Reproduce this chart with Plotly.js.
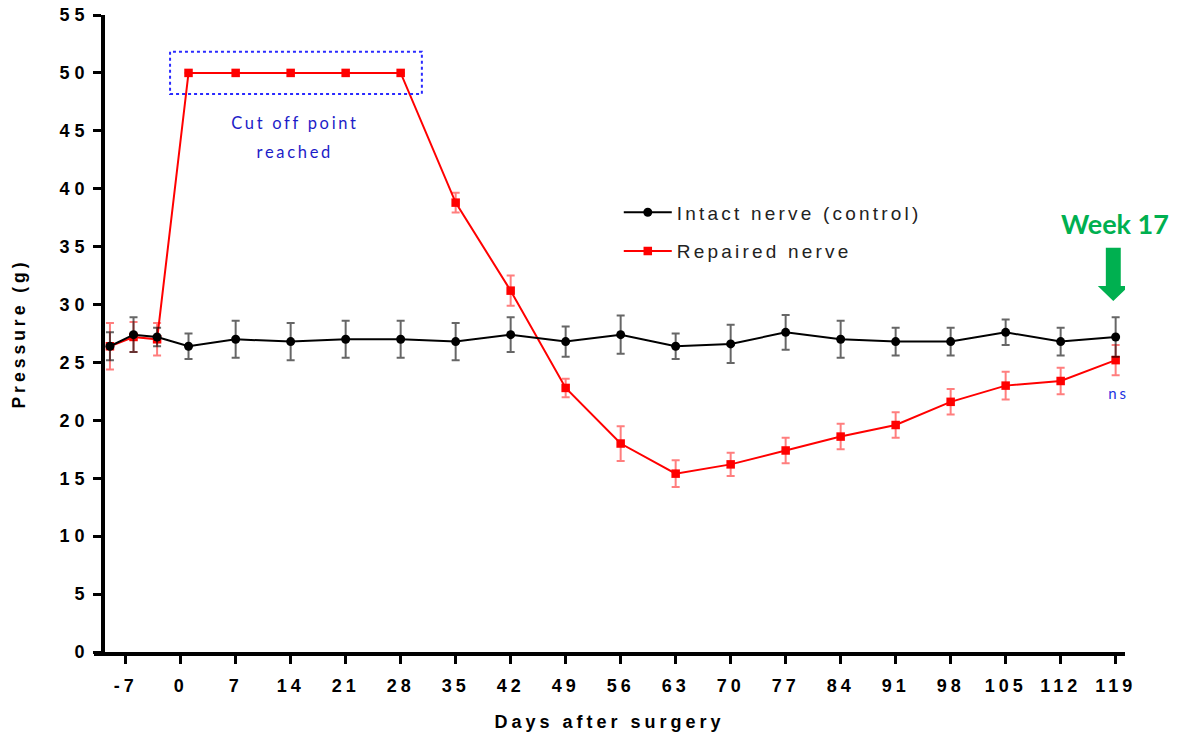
<!DOCTYPE html>
<html>
<head>
<meta charset="utf-8">
<script src="https://cdn.plot.ly/plotly-3.0.1.min.js"></script>
<style>
  html, body { margin: 0; padding: 0; background: #fff; }
  #chart { width: 1181px; height: 739px; }
  /* Spaced-out lettering used throughout the figure */
  .xtick text { letter-spacing: 4px; }
  .ytick text { letter-spacing: 5px; }
  .xtitle, .ytitle { letter-spacing: 4px; }
  .legendtext { letter-spacing: 3.2px; }
  .annotation[data-index="0"] text,
  .annotation[data-index="1"] text,
  .annotation[data-index="2"] text { letter-spacing: 2.7px; }
</style>
</head>
<body>
<div id="chart"></div>
<script>
// Measurement days (negative = baseline before surgery)
const days = [-9, -6, -3, 1, 7, 14, 21, 28, 35, 42, 49, 56, 63, 70, 77, 84, 91, 98, 105, 112, 119];

// Withdrawal pressure (g), mean and error
const intactMean = [26.4, 27.4, 27.2, 26.4, 27.0, 26.8, 27.0, 27.0, 26.8, 27.4, 26.8, 27.4, 26.4, 26.6, 27.6, 27.0, 26.8, 26.8, 27.6, 26.8, 27.2];
const intactErr  = [1.2, 1.5, 0.8, 1.1, 1.6, 1.6, 1.6, 1.6, 1.6, 1.5, 1.3, 1.65, 1.1, 1.65, 1.5, 1.6, 1.2, 1.2, 1.1, 1.2, 1.7];

const repairedMean = [26.4, 27.2, 27.0, 50, 50, 50, 50, 50, 38.8, 31.2, 22.8, 18.0, 15.4, 16.2, 17.4, 18.6, 19.6, 21.6, 23.0, 23.4, 25.2];
const repairedErr  = [2.0, 1.3, 1.4, null, null, null, null, null, 0.85, 1.3, 0.8, 1.5, 1.15, 1.0, 1.1, 1.1, 1.1, 1.1, 1.2, 1.15, 1.3];

// Test cut-off and the days on which it was reached
const cutoffValue = 50;
const cutoffDays = [1, 7, 14, 21, 28];

// Axis ticks
const xTickVals = [-7, 0, 7, 14, 21, 28, 35, 42, 49, 56, 63, 70, 77, 84, 91, 98, 105, 112, 119];
const xTickText = ['-7', '0', '7', '14', '21', '28', '35', '42', '49', '56', '63', '70', '77', '84', '91', '98', '105', '112', '119'];

const seriesNames = ['Intact nerve (control)', 'Repaired nerve'];
const xTitle = 'Days after surgery';
const yTitle = 'Pressure (g)';

const tickFont = { family: 'Liberation Sans, Arial, sans-serif', size: 18, color: '#000', weight: 'bold' };
const noteBlue = '#1c1cc8';

const repaired = {
  x: days, y: repairedMean, name: seriesNames[1], type: 'scatter', mode: 'lines+markers',
  legendgroup: 'b', legendrank: 2,
  line: { color: '#ff0000', width: 2 },
  marker: { symbol: 'square', size: 8.5, color: '#ff0000' },
  error_y: { type: 'data', array: repairedErr, visible: true, color: 'rgba(255,40,40,0.6)', thickness: 2, width: 4 }
};
const intact = {
  x: days, y: intactMean, name: seriesNames[0], type: 'scatter', mode: 'lines+markers',
  legendgroup: 'a', legendrank: 1,
  line: { color: '#000', width: 2 },
  marker: { symbol: 'circle', size: 9, color: '#000' },
  error_y: { type: 'data', array: intactErr, visible: true, color: 'rgba(0,0,0,0.6)', thickness: 2, width: 4 }
};

// Dotted frame around the cut-off plateau
const cutX0 = cutoffDays[0] - 2.35;
const cutX1 = cutoffDays[cutoffDays.length - 1] + 2.7;
const cutMid = (cutoffDays[0] + cutoffDays[cutoffDays.length - 1]) / 2;

// Block arrow pointing at the last time point
const lastDay = days[days.length - 1];
const ax = lastDay - 0.3;
const arrowPath = `M ${ax - 0.95} 34.9 L ${ax + 0.95} 34.9 L ${ax + 0.95} 31.6 L ${ax + 1.97} 31.6 ` +
                  `L ${ax} 30.3 L ${ax - 1.97} 31.6 L ${ax - 0.95} 31.6 Z`;

const layout = {
  width: 1181, height: 739,
  margin: { l: 94, r: 56, t: 15, b: 87 },
  paper_bgcolor: '#fff', plot_bgcolor: '#fff',
  showlegend: true,
  legend: {
    x: 0.509, y: 0.72, xanchor: 'left', yanchor: 'top',
    traceorder: 'grouped', tracegroupgap: 11, itemwidth: 48,
    font: { family: 'Liberation Sans, Arial, sans-serif', size: 19, color: '#222' },
    bgcolor: 'rgba(0,0,0,0)'
  },
  xaxis: {
    range: [-11.03, 120.19], tickmode: 'array', tickvals: xTickVals, ticktext: xTickText,
    showgrid: false, zeroline: false, showline: true, linecolor: '#000', linewidth: 3.5,
    ticks: 'outside', ticklen: 8, tickwidth: 3, tickcolor: '#000',
    tickfont: tickFont, ticklabelstandoff: 7,
    title: { text: xTitle, font: { family: 'Liberation Sans, Arial, sans-serif', size: 18, color: '#000', weight: 'bold' }, standoff: 21 }
  },
  yaxis: {
    range: [0, 55], tickmode: 'linear', tick0: 0, dtick: 5,
    anchor: 'free', position: 0.0078,
    showgrid: false, zeroline: false, showline: true, linecolor: '#000', linewidth: 3.5,
    ticks: 'outside', ticklen: 8, tickwidth: 3, tickcolor: '#000',
    tickfont: tickFont,
    title: { text: yTitle, font: { family: 'Liberation Sans, Arial, sans-serif', size: 17.5, color: '#000', weight: 'bold' }, standoff: 28 }
  },
  shapes: [
    { type: 'rect', xref: 'x', yref: 'y', x0: cutX0, x1: cutX1, y0: cutoffValue - 1.82, y1: cutoffValue + 1.83,
      line: { color: '#2a2aff', width: 2, dash: 'dot' }, fillcolor: 'rgba(0,0,0,0)' },
    { type: 'path', xref: 'x', yref: 'y', path: arrowPath, fillcolor: '#00b050', line: { width: 0 } }
  ],
  annotations: [
    { x: cutMid, y: 45.7, xref: 'x', yref: 'y', text: 'Cut off point', showarrow: false,
      font: { family: 'Lato, Open Sans, sans-serif', size: 16.5, color: noteBlue } },
    { x: cutMid, y: 43.2, xref: 'x', yref: 'y', text: 'reached', showarrow: false,
      font: { family: 'Lato, Open Sans, sans-serif', size: 16.5, color: noteBlue } },
    { x: lastDay + 0.3, y: 22.4, xref: 'x', yref: 'y', text: 'ns', showarrow: false,
      font: { family: 'Lato, Open Sans, sans-serif', size: 15, color: '#2233e0' } },
    { x: lastDay - 0.1, y: 37.0, xref: 'x', yref: 'y', text: 'Week 17', showarrow: false,
      font: { family: 'Lato, Open Sans, sans-serif', size: 27, color: '#00b050', weight: 'bold' } }
  ]
};

Plotly.newPlot('chart', [repaired, intact], layout, { displayModeBar: false, staticPlot: true });
</script>
</body>
</html>
